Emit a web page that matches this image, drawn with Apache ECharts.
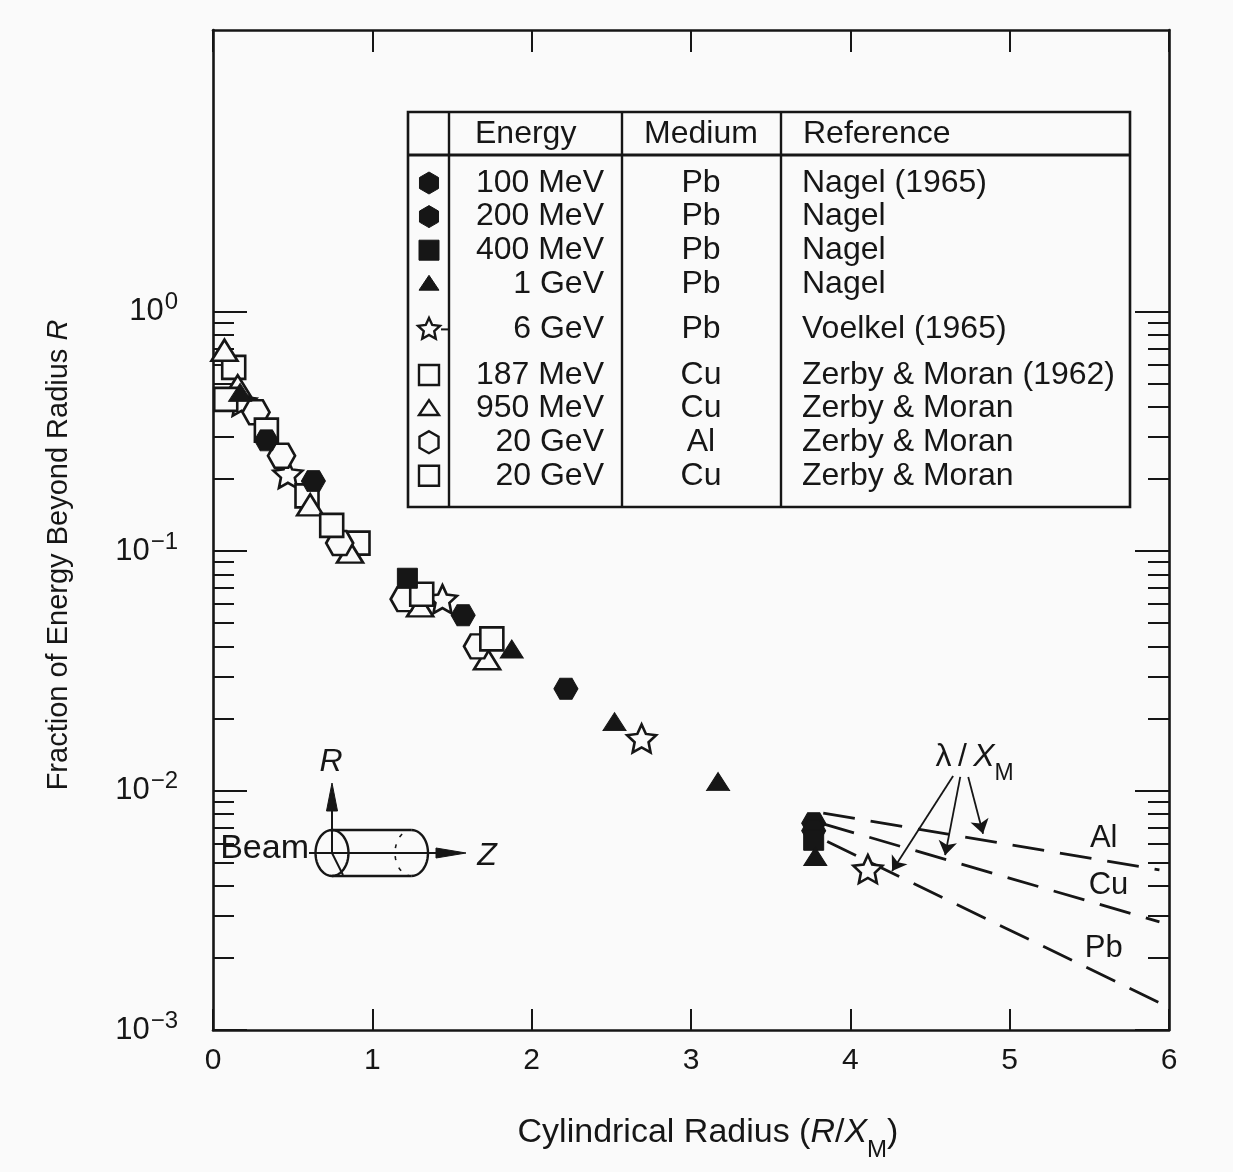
<!DOCTYPE html>
<html>
<head>
<meta charset="utf-8">
<script src="https://cdn.jsdelivr.net/npm/echarts@6/dist/echarts.min.js"></script>
<style>
  html, body { margin: 0; padding: 0; background: #fafafa; }
  #chart { width: 1233px; height: 1172px; }
</style>
</head>
<body>
<div id="chart"></div>
<script>
// Lateral containment of electromagnetic showers:
// fraction of the shower energy deposited outside a cylinder of radius R.

// ---- data sets (table rows) ----
const energies   = ['100 MeV', '200 MeV', '400 MeV', '1 GeV', '6 GeV', '187 MeV', '950 MeV', '20 GeV', '20 GeV'];
const media      = ['Pb', 'Pb', 'Pb', 'Pb', 'Pb', 'Cu', 'Cu', 'Al', 'Cu'];
const references = ['Nagel (1965)', 'Nagel', 'Nagel', 'Nagel', 'Voelkel (1965)',
                    'Zerby & Moran (1962)', 'Zerby & Moran', 'Zerby & Moran', 'Zerby & Moran'];

// ---- measurements: [R / X_M, fraction of energy beyond R] ----
const pb100MeV = [[0.335, 0.29], [1.57, 0.054], [3.77, 0.0073]];
const pb200MeV = [[0.63, 0.196], [2.215, 0.0266], [3.77, 0.0068]];
const pb400MeV = [[1.22, 0.077], [3.77, 0.0062]];
const pb1GeV   = [[0.17, 0.46], [1.875, 0.039], [2.52, 0.0194], [3.17, 0.0109], [3.78, 0.0053]];
const pb6GeV   = [[0.18, 0.42], [0.47, 0.21], [1.44, 0.063], [2.69, 0.0165], [4.11, 0.0047]];
const cu187MeV = [[0.13, 0.585], [0.59, 0.17], [0.91, 0.108]];
const cu950MeV = [[0.072, 0.69], [0.155, 0.49], [0.61, 0.156], [0.86, 0.099], [1.30, 0.059], [1.72, 0.0355]];
const al20GeV  = [[0.27, 0.38], [0.43, 0.25], [0.795, 0.108], [1.20, 0.063], [1.66, 0.040]];
const cu20GeV  = [[0.08, 0.43], [0.335, 0.32], [0.745, 0.128], [1.31, 0.066], [1.75, 0.043]];

// ---- exponential tails beyond the core, one per medium ----
const tailAl = [[3.83, 0.00805], [5.94, 0.00466]];
const tailCu = [[3.83, 0.00726], [5.94, 0.00283]];
const tailPb = [[3.855, 0.00612], [5.94, 0.00130]];
const tailNames = ['Al', 'Cu', 'Pb'];
const tailLabelAt = [[5.59, 0.0063], [5.62, 0.0040], [5.59, 0.0022]];

// λ/X_M pointers: start and end of each arrow
const lambdaLabelAt = [4.78, 0.0138];
const arrowFrom = [[4.645, 0.0115], [4.69, 0.0114], [4.74, 0.0114]];
const arrowTo   = [[4.262, 0.00461], [4.595, 0.00537], [4.833, 0.0066]];

// ---- axis ticks ----
const xTicks = [0, 1, 2, 3, 4, 5, 6];
const yMajorTicks = [0.001, 0.01, 0.1, 1];
const yMajorExponents = ['\u22123', '\u22122', '\u22121', '0'];
const yMinorTicks = [0.002, 0.003, 0.004, 0.005, 0.006, 0.007, 0.008, 0.009,
                     0.02, 0.03, 0.04, 0.05, 0.06, 0.07, 0.08, 0.09,
                     0.2, 0.3, 0.4, 0.5, 0.6, 0.7, 0.8, 0.9];

// ---- marker shapes (unit outlines, y down) ----
const INK = '#161616';
const BG = '#fafafa';
const FONT = '"Liberation Sans", Arial, sans-serif';
const HEX_FLAT = [[-1, 0], [-0.5, -0.866], [0.5, -0.866], [1, 0], [0.5, 0.866], [-0.5, 0.866]];
const HEX_POINTY = [[0, -1], [0.866, -0.5], [0.866, 0.5], [0, 1], [-0.866, 0.5], [-0.866, -0.5]];
const SQUARE = [[-1, -1], [1, -1], [1, 1], [-1, 1]];
const TRIANGLE = [[0, -1], [1, 0.75], [-1, 0.75]];
function starPoints(inner) {
  const pts = [];
  for (let i = 0; i < 10; i++) {
    const r = i % 2 === 0 ? 1 : inner;
    const a = -Math.PI / 2 + i * Math.PI / 5;
    pts.push([r * Math.cos(a), r * Math.sin(a)]);
  }
  return pts;
}
const STAR = starPoints(0.48);
function toSymbol(pts) {
  return 'path://' + pts.map((p, i) => (i ? 'L' : 'M') + p[0].toFixed(3) + ',' + p[1].toFixed(3)).join('') + 'Z';
}

const seriesData = [pb100MeV, pb200MeV, pb400MeV, pb1GeV, pb6GeV, cu187MeV, cu950MeV, al20GeV, cu20GeV];
const seriesShape = [HEX_FLAT, HEX_FLAT, SQUARE, TRIANGLE, STAR, SQUARE, TRIANGLE, HEX_FLAT, SQUARE];
const legendShape = [HEX_POINTY, HEX_POINTY, SQUARE, TRIANGLE, STAR, SQUARE, TRIANGLE, HEX_POINTY, SQUARE];
const seriesFilled = [true, true, true, true, false, false, false, false, false];
const seriesSize = [[24, 21], [24, 21], [20, 20], [23, 18], [29, 28], [23, 23], [26, 21], [27, 24], [23, 23]];

const scatterSeries = seriesData.map((data, i) => ({
  name: energies[i] + ' ' + media[i],
  type: 'scatter',
  data: data,
  symbol: toSymbol(seriesShape[i]),
  symbolSize: seriesSize[i],
  symbolKeepAspect: false,
  z: seriesFilled[i] ? 5 : 4,
  itemStyle: seriesFilled[i]
    ? { color: INK, borderColor: INK, borderWidth: 1, opacity: 1 }
    : { color: BG, borderColor: INK, borderWidth: 2.6, opacity: 1 },
  emphasis: { disabled: true },
  silent: true
}));

const textRich = {
  t: { fontSize: 32, fontFamily: FONT, color: INK },
  i: { fontSize: 32, fontFamily: FONT, color: INK, fontStyle: 'italic' },
  sub: { fontSize: 23, fontFamily: FONT, color: INK, verticalAlign: 'bottom', padding: [0, 0, -12, 0] }
};

const tailSeries = [tailAl, tailCu, tailPb].map((data, i) => {
  const s = {
    name: tailNames[i],
    type: 'line',
    data: data,
    symbol: 'none',
    silent: true,
    z: 3,
    lineStyle: { color: INK, width: 2.8, type: [32, 16] },
    markPoint: {
      symbol: 'circle', symbolSize: 0, silent: true,
      label: { show: true, position: 'inside', color: INK, fontSize: 31, fontFamily: FONT,
               formatter: tailNames[i] },
      data: [{ coord: tailLabelAt[i] }]
    }
  };
  if (i === 0) {
    s.markLine = {
      silent: true,
      symbol: ['none', 'arrow'],
      symbolSize: 14,
      lineStyle: { color: INK, width: 1.8, type: 'solid' },
      label: { show: false },
      data: arrowFrom.map((p, k) => [{ coord: p }, { coord: arrowTo[k] }])
    };
    s.markPoint.data.push({
      coord: lambdaLabelAt,
      label: { show: true, position: 'inside', formatter: '{t|\u03bb\u2009/\u2009}{i|X}{sub|M}', rich: textRich }
    });
  }
  return s;
});

// ---- axes ----
const frameLine = { show: true, lineStyle: { color: INK, width: 2.6 } };
function logAxis(position, ticks, len, showLine, showLabel) {
  return {
    type: 'log', logBase: 10, min: 0.001, max: 15, position: position,
    axisLine: showLine ? frameLine : { show: false },
    axisTick: { show: true, inside: true, length: len, customValues: ticks,
                lineStyle: { color: INK, width: 2 } },
    axisLabel: showLabel ? {
      show: true, customValues: yMajorTicks, margin: 35,
      formatter: v => {
        const k = yMajorTicks.findIndex(t => Math.abs(Math.log10(t) - Math.log10(v)) < 1e-6);
        return k < 0 ? '' : '{b|10}{s|' + yMajorExponents[k] + '}';
      },
      rich: {
        b: { fontSize: 31, fontFamily: FONT, color: INK, lineHeight: 42 },
        s: { fontSize: 24, fontFamily: FONT, color: INK, verticalAlign: 'top', lineHeight: 42, padding: [0, 0, 0, 1] }
      }
    } : { show: false },
    splitLine: { show: false },
    minorTick: { show: false },
    minorSplitLine: { show: false }
  };
}

const yAxes = [
  logAxis('left', yMajorTicks, 34, true, true),
  logAxis('left', yMinorTicks, 21, false, false),
  logAxis('right', yMajorTicks, 34, true, false),
  logAxis('right', yMinorTicks, 21, false, false)
];
yAxes[0].name = '{t|Fraction of Energy Beyond Radius }{i|R}';
yAxes[0].nameLocation = 'middle';
yAxes[0].nameGap = 140;
yAxes[0].nameRotate = 90;
yAxes[0].nameTextStyle = {
  padding: [0, 50, 0, 0],
  rich: {
    t: { fontSize: 29, fontFamily: FONT, color: INK },
    i: { fontSize: 29, fontFamily: FONT, color: INK, fontStyle: 'italic' }
  }
};

const xAxes = [
  {
    type: 'value', min: 0, max: 6, interval: 1, position: 'bottom',
    axisLine: frameLine,
    axisTick: { show: true, inside: true, length: 21, lineStyle: { color: INK, width: 2 } },
    axisLabel: { show: true, margin: 16, fontSize: 30, fontFamily: FONT, color: INK,
                 formatter: v => String(xTicks[xTicks.indexOf(v)]) },
    splitLine: { show: false },
    name: '{t|Cylindrical Radius (}{i|R}{t|/}{i|X}{sub|M}{t|)}',
    nameLocation: 'middle',
    nameGap: 86,
    nameTextStyle: {
      padding: [0, 0, 0, 34],
      rich: {
        t: { fontSize: 34, fontFamily: FONT, color: INK },
        i: { fontSize: 34, fontFamily: FONT, color: INK, fontStyle: 'italic' },
        sub: { fontSize: 24, fontFamily: FONT, color: INK, verticalAlign: 'bottom', padding: [0, 0, -12, 0] }
      }
    }
  },
  {
    type: 'value', min: 0, max: 6, interval: 1, position: 'top',
    axisLine: frameLine,
    axisTick: { show: true, inside: true, length: 22, lineStyle: { color: INK, width: 2 } },
    axisLabel: { show: false },
    splitLine: { show: false }
  }
];

// ---- table of data sets (upper right) ----
const table = { left: 408, top: 112, right: 1130, bottom: 507, headerY: 155,
                cols: [449, 622, 781] };
const rowY = [183, 216.6, 250.2, 283.8, 329.4, 375, 408.6, 442.2, 475.8];
const tableFont = '32px ' + FONT;

function txt(x, y, text, align, font) {
  return {
    type: 'text', x: x, y: y, silent: true,
    style: { text: text, font: font || tableFont, fill: INK,
             align: align, textAlign: align, verticalAlign: 'middle', textVerticalAlign: 'middle' }
  };
}
function seg(x1, y1, x2, y2, w, dash) {
  const el = { type: 'line', silent: true,
               shape: { x1: x1, y1: y1, x2: x2, y2: y2 },
               style: { stroke: INK, lineWidth: w || 2.4 } };
  if (dash) el.style.lineDash = dash;
  return el;
}
function outline(pts, cx, cy, w, h) {
  return pts.map(p => [cx + p[0] * w / 2, cy + p[1] * h / 2]);
}
function arcPoints(cx, cy, rx, ry, a0, a1, n) {
  const pts = [];
  for (let k = 0; k <= n; k++) {
    const a = a0 + (a1 - a0) * k / n;
    pts.push([cx + rx * Math.cos(a), cy + ry * Math.sin(a)]);
  }
  return pts;
}

const graphics = [];
graphics.push({ type: 'rect', silent: true,
  shape: { x: table.left, y: table.top, width: table.right - table.left, height: table.bottom - table.top },
  style: { fill: BG, stroke: INK, lineWidth: 2.6 } });
graphics.push(seg(table.left, table.headerY, table.right, table.headerY, 3));
table.cols.forEach(x => graphics.push(seg(x, table.top, x, table.bottom, 2.4)));
graphics.push(txt(475, 134, 'Energy', 'left'));
graphics.push(txt(701, 134, 'Medium', 'center'));
graphics.push(txt(803, 134, 'Reference', 'left'));
rowY.forEach((y, i) => {
  const s = i === 4 ? 23 : (legendShape[i] === HEX_POINTY ? 22 : 20);
  const h = legendShape[i] === TRIANGLE ? s * 0.85 : s;
  graphics.push({
    type: 'polygon', silent: true,
    shape: { points: outline(legendShape[i], 429, y, s, h) },
    style: seriesFilled[i] ? { fill: INK, stroke: INK, lineWidth: 1 }
                           : { fill: BG, stroke: INK, lineWidth: 2.4 }
  });
  if (i === 4) graphics.push(seg(441, y, 449, y, 2));
  graphics.push(txt(604, y, energies[i], 'right'));
  graphics.push(txt(701, y, media[i], 'center'));
  graphics.push(txt(802, y, references[i], 'left'));
});

// ---- beam / cylinder sketch (lower left) ----
const sketchFont = '32px ' + FONT;
graphics.push(txt(331, 762, 'R', 'center', 'italic ' + sketchFont));
graphics.push(txt(309, 849, 'Beam', 'right', '34px ' + FONT));
graphics.push(txt(487, 856, 'Z', 'center', 'italic ' + sketchFont));
// front face, body and far end of the cylinder
graphics.push({ type: 'polygon', silent: true,
  shape: { points: arcPoints(332, 853, 16.5, 23, 0, Math.PI * 2, 48) },
  style: { fill: 'none', stroke: INK, lineWidth: 2.4 } });
graphics.push(seg(332, 830, 411.5, 830, 2.4));
graphics.push(seg(332, 876, 411.5, 876, 2.4));
graphics.push({ type: 'polyline', silent: true,
  shape: { points: arcPoints(411.5, 853, 16.5, 23, -Math.PI / 2, Math.PI / 2, 24) },
  style: { fill: 'none', stroke: INK, lineWidth: 2.4 } });
graphics.push({ type: 'polyline', silent: true,
  shape: { points: arcPoints(411.5, 853, 16.5, 23, Math.PI / 2, Math.PI * 1.5, 24) },
  style: { fill: 'none', stroke: INK, lineWidth: 1.6, lineDash: [4, 8] } });
graphics.push(seg(332, 853, 343, 875, 2));
// beam axis with arrow
graphics.push(seg(309, 853, 440, 853, 2));
graphics.push({ type: 'polygon', silent: true, shape: { points: [[436, 848], [466, 853], [436, 858]] },
  style: { fill: INK, stroke: INK, lineWidth: 1 } });
// radial arrow
graphics.push(seg(332, 853, 332, 805, 2));
graphics.push({ type: 'polygon', silent: true, shape: { points: [[326.5, 811], [332, 783], [337.5, 811]] },
  style: { fill: INK, stroke: INK, lineWidth: 1 } });

const chart = echarts.init(document.getElementById('chart'), null, { renderer: 'canvas' });
chart.setOption({
  backgroundColor: BG,
  animation: false,
  grid: { left: 213, right: 64, top: 30, bottom: 142, containLabel: false },
  xAxis: xAxes,
  yAxis: yAxes,
  series: [...tailSeries, ...scatterSeries],
  graphic: { elements: graphics }
});
</script>
</body>
</html>
